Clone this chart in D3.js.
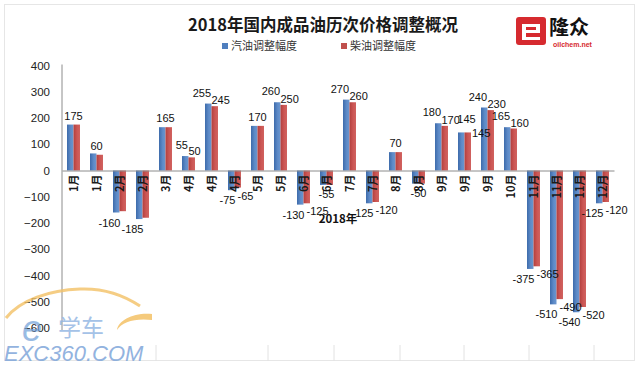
<!DOCTYPE html>
<html><head><meta charset="utf-8">
<script src="https://cdn.jsdelivr.net/npm/d3@7"></script>
<style>body{margin:0;background:#fff}svg{display:block}</style>
</head><body><svg id="c" width="640" height="365"></svg>
<script>
const months = ["1月","1月","2月","2月","3月","4月","4月","4月","5月","5月","6月","6月","7月","7月","8月","8月","9月","9月","9月","10月","11月","11月","11月","12月"];
const gasoline = [175,65,-160,-185,165,55,255,-75,170,260,-130,-55,270,-125,70,-50,180,145,240,165,-375,-510,-540,-125];
const diesel   = [175,60,-155,-180,165,50,245,-65,170,250,-125,-55,260,-120,70,-50,170,145,230,160,-365,-490,-520,-120];
// label mode: c = one centred label, g = gasoline label only, b = both labels
const labelMode = ["c","c","g","g","c","b","b","b","c","b","b","c","b","b","c","c","b","b","b","b","b","b","b","b"];
const yTicks = [400,300,200,100,0,-100,-200,-300,-400,-500,-600];
const seriesNames = ["汽油调整幅度","柴油调整幅度"];
const title = "2018年国内成品油历次价格调整概况";
const xTitle = "2018年";

const svg = d3.select("#c");
const CJK = "'Noto Sans CJK SC','Noto Sans',sans-serif";
const NUM = "'Liberation Sans',Arial,sans-serif";

// frame
svg.append("rect").attr("x",4.5).attr("y",4.5).attr("width",630).attr("height",356)
  .attr("fill","none").attr("stroke","#e6e6e6");

const defs = svg.append("defs");
function grad(id, c1, c2, c3){
  const g = defs.append("linearGradient").attr("id",id).attr("x1","0").attr("x2","1").attr("y1","0").attr("y2","0");
  g.append("stop").attr("offset","0%").attr("stop-color",c1);
  g.append("stop").attr("offset","55%").attr("stop-color",c2);
  g.append("stop").attr("offset","100%").attr("stop-color",c3);
}
grad("gBlue","#3d6bab","#5d8ac7","#6b97cf");
grad("gRed","#b23f3d","#cc5654","#d0625f");
const fills = ["url(#gBlue)","url(#gRed)"];
const solid = ["#4f7fbf","#c0504d"];

const x = d3.scaleBand().domain(d3.range(months.length)).range([62,614]).paddingInner(0.435).paddingOuter(0.2175);
const xs = d3.scaleBand().domain([0,1]).range([0,x.bandwidth()]);
const y = d3.scaleLinear().domain([-600,400]).range([328,65.5]);
const y0 = y(0);

// bars
const groups = svg.append("g").selectAll("g").data(months).join("g")
  .attr("transform",(d,i)=>`translate(${x(i)},0)`);
groups.selectAll("rect").data((d,i)=>[gasoline[i],diesel[i]]).join("rect")
  .attr("x",(d,j)=>xs(j)).attr("width",xs.bandwidth())
  .attr("y",d=>Math.min(y(d),y0)).attr("height",d=>Math.abs(y(d)-y0))
  .attr("fill",(d,j)=>fills[j]);

// y axis
const yAxis = svg.append("g").attr("transform","translate(62,0)")
  .call(d3.axisLeft(y).tickValues(yTicks).tickSize(0).tickPadding(12));
yAxis.select(".domain").attr("stroke","#8c8c8c").attr("d",`M0,${y(400)-1}V${y(-600)+2}`);
yAxis.selectAll("text").attr("font-family",NUM).attr("font-size",11.5).attr("fill","#222");

// x axis
const xAxis = svg.append("g").attr("transform",`translate(0,${y0})`)
  .call(d3.axisBottom(x).tickSize(0).tickFormat(i=>months[i]));
xAxis.select(".domain").attr("stroke","#8c8c8c");
xAxis.selectAll("text")
  .attr("font-family",CJK).attr("font-size",11).attr("font-weight","bold").attr("fill","#1a1a1a")
  .attr("text-anchor","end").attr("dy",null).attr("y",null)
  .attr("dominant-baseline","central")
  .attr("transform","translate(-1,4) rotate(-90)");

// data labels
const lab = svg.append("g").attr("font-family",NUM).attr("font-size",11).attr("fill","#111");
months.forEach((m,i)=>{
  const c = x(i)+x.bandwidth()/2;
  const g = gasoline[i], dsl = diesel[i], mode = labelMode[i];
  if(mode==="c"){
    const v = dsl;
    lab.append("text").attr("x",c).attr("text-anchor","middle")
      .attr("y", v>=0 ? y(v)-5 : y(v)+13).text(v);
  } else if(mode==="b" && g===dsl){
    lab.append("text").attr("x",c+2).attr("text-anchor","middle").attr("y",y(g)-9).text(g);
    lab.append("text").attr("x",c+xs.bandwidth()+1).attr("text-anchor","start").attr("y",y(dsl)+5).text(dsl);
  } else {
    lab.append("text").attr("x", c+(g>=0?-0.5:1)).attr("text-anchor","end")
      .attr("y", g>=0 ? y(g)-7 : y(g)+14).text(g);
    if(mode==="b"){
      lab.append("text").attr("x", c+(dsl>=0?0:3)).attr("text-anchor","start")
        .attr("y", dsl>=0 ? y(dsl)-2 : y(dsl)+12).text(dsl);
    }
  }
});

// axis title
svg.append("text").attr("x",(62+614)/2).attr("y",223).attr("text-anchor","middle")
  .attr("font-family",CJK).attr("font-size",11.5).attr("font-weight","bold").attr("fill","#111").text(xTitle);

// title
svg.append("text").attr("x",323).attr("y",31).attr("text-anchor","middle")
  .attr("font-family",CJK).attr("font-size",16.5).attr("font-weight","bold").attr("fill","#1a1a1a").text(title);

// legend
const lg = svg.append("g").attr("font-family",CJK).attr("font-size",11).attr("fill","#333");
[[222,0],[341,1]].forEach(([lx,j])=>{
  lg.append("rect").attr("x",lx).attr("y",43).attr("width",6).attr("height",6).attr("fill",solid[j]);
  lg.append("text").attr("x",lx+9).attr("y",50).text(seriesNames[j]);
});

// logo
const logo = svg.append("g");
logo.append("rect").attr("x",516).attr("y",17).attr("width",30).attr("height",28).attr("rx",3).attr("fill","#d62a2f");
logo.append("path").attr("d","M522,24 H540 V33 H526 V37 H540 V40 H522 Z M526,27 V30 H536 V27 Z").attr("fill","#fff");
logo.append("text").attr("x",549).attr("y",35).attr("font-family",CJK).attr("font-size",20).attr("font-weight","bold").attr("fill","#111").text("隆众");
logo.append("text").attr("x",553).attr("y",46.5).attr("font-family",NUM).attr("font-size",7).attr("font-weight","bold").attr("fill","#d62a2f").text("oilchem.net");

// bottom faint lines
const wm = svg.append("g");
[156,268,334,400,464,529,594].forEach(v=>{
  wm.append("line").attr("x1",v).attr("x2",v).attr("y1",345).attr("y2",361).attr("stroke","#e2e2e2");
});

// watermark
wm.append("path").attr("d","M6,318 C20,300 50,290 80,289 C105,288 125,296 140,306")
  .attr("fill","none").attr("stroke","#f3c165").attr("stroke-width",3).attr("opacity",0.8);
wm.append("path").attr("d","M152,314 C135,312 118,320 117,330 C122,322 135,318 152,320 Z")
  .attr("fill","#f3c165").attr("opacity",0.85);
wm.append("text").attr("x",22).attr("y",341).attr("font-family",NUM).attr("font-size",36).attr("font-style","italic")
  .attr("fill","#6f9fd8").attr("opacity",0.7).text("e");
wm.append("text").attr("x",58).attr("y",336).attr("font-family",CJK).attr("font-size",23)
  .attr("fill","#8fb4e2").attr("opacity",0.8).text("学车");
wm.append("text").attr("x",4).attr("y",361).attr("font-family",NUM).attr("font-size",22).attr("font-style","italic")
  .attr("fill","#7fa6da").attr("opacity",0.85).text("EXC360.COM");
</script></body></html>
